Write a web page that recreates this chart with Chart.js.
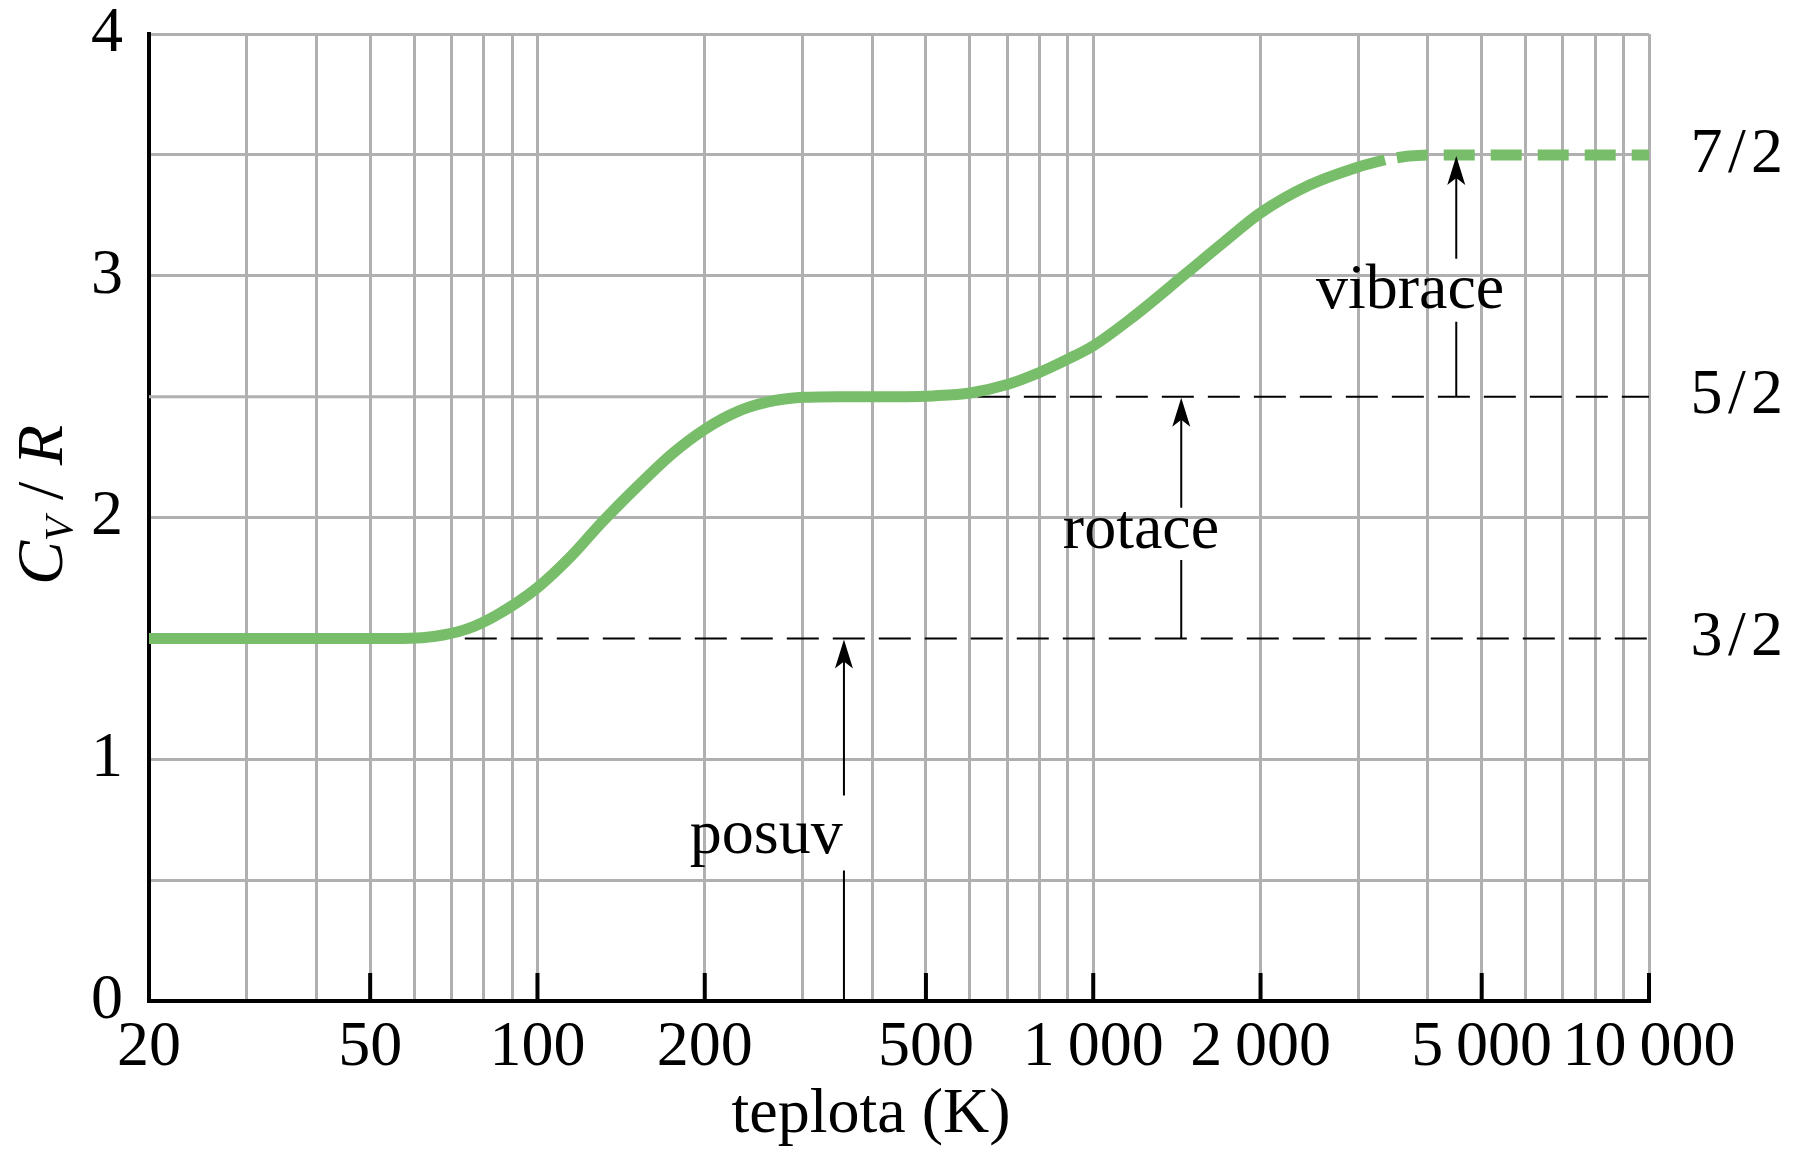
<!DOCTYPE html>
<html>
<head>
<meta charset="utf-8">
<title>Cv/R</title>
<script src="https://cdn.jsdelivr.net/npm/chart.js@4.4.1/dist/chart.umd.min.js"></script>
<style>
  html, body { margin: 0; padding: 0; background: #fff; }
  #wrap { width: 1798px; height: 1149px; }
</style>
</head>
<body>
<div id="wrap"><canvas id="cvChart" width="1798" height="1149"></canvas></div>
<script>
// temperature (K) and Cv/R
const tempSolid = [20, 30, 40, 50, 55, 62, 68, 75, 85, 100, 115, 130, 150, 175, 200, 230, 260, 300, 350, 400, 460, 515, 600, 700, 800, 900, 1000, 1180, 1470, 1700, 2000, 2450, 3000, 3350];
const cvSolid = [1.5, 1.5, 1.5, 1.5, 1.5, 1.503, 1.515, 1.54, 1.6, 1.71, 1.84, 1.975, 2.12, 2.265, 2.365, 2.44, 2.478, 2.497, 2.5, 2.5, 2.5, 2.503, 2.515, 2.55, 2.6, 2.655, 2.71, 2.83, 3.01, 3.13, 3.26, 3.375, 3.45, 3.48];
const tempDashed = [3350, 3700, 4200, 5000, 7000, 10000];
const cvDashed = [3.48, 3.495, 3.5, 3.5, 3.5, 3.5];

// black dashed reference levels
const transTemp = [74, 10000];
const transCv = [1.5, 1.5];
const rotTemp = [620, 10000];
const rotCv = [2.5, 2.5];
// the grey grid line at 2.5 only runs up to the dashed level
const gridPartTemp = [20, 620];
const gridPartCv = [2.5, 2.5];
const hiddenGridLevels = [1.5, 2.5];

// axis ticks
const gridTemps = [20, 30, 40, 50, 60, 70, 80, 90, 100, 200, 300, 400, 500, 600, 700, 800, 900, 1000, 2000, 3000, 4000, 5000, 6000, 7000, 8000, 9000, 10000];
const majorTemps = [50, 100, 200, 500, 1000, 2000, 5000, 10000];
const labelTemps = [20, 50, 100, 200, 500, 1000, 2000, 5000, 10000];
const tempLabels = ['20', '50', '100', '200', '500', '1\u2009000', '2\u2009000', '5\u2009000', '10\u2009000'];
const fracTicks = [1.5, 2.5, 3.5];
const fracLabels = ['3\u200a/\u200a2', '5\u200a/\u200a2', '7\u200a/\u200a2'];

// arrows: x position, from, to, gap for the text
const arrowTemps = [356, 1440, 4500];
const arrowFrom = [0, 1.5, 2.5];
const arrowTo = [1.5, 2.5, 3.5];
const arrowGapLow = [0.54, 1.824, 2.81];
const arrowGapHigh = [0.85, 2.04, 3.07];
const arrowText = ['posuv', 'rotace', 'vibrace'];
const textTemps = [258, 1219, 3716];
const textBase = [0.612, 1.874, 2.867];

const serif = "'Liberation Serif', 'DejaVu Serif', serif";
const green = '#78bd69';
const gridGray = '#b0b0b0';

const extras = {
  id: 'extras',
  afterDatasetsDraw(chart) {
    const { ctx, chartArea } = chart;
    const xs = chart.scales.x, ys = chart.scales.y;
    ctx.save();

    // inward ticks on the bottom axis
    ctx.strokeStyle = '#000';
    ctx.lineWidth = 4;
    majorTemps.forEach(t => {
      const px = xs.getPixelForValue(t);
      ctx.beginPath();
      ctx.moveTo(px, chartArea.bottom);
      ctx.lineTo(px, chartArea.bottom - 28);
      ctx.stroke();
    });

    // arrows with a gap for their labels
    ctx.lineWidth = 2;
    ctx.fillStyle = '#000';
    arrowTemps.forEach((t, i) => {
      const px = xs.getPixelForValue(t);
      const yFrom = ys.getPixelForValue(arrowFrom[i]);
      const yTo = ys.getPixelForValue(arrowTo[i]);
      const gLo = ys.getPixelForValue(arrowGapLow[i]);
      const gHi = ys.getPixelForValue(arrowGapHigh[i]);
      ctx.beginPath();
      ctx.moveTo(px, yFrom); ctx.lineTo(px, gLo);
      ctx.moveTo(px, gHi); ctx.lineTo(px, yTo + 20);
      ctx.stroke();
      ctx.beginPath();
      ctx.moveTo(px, yTo + 1);
      ctx.lineTo(px - 9, yTo + 30);
      ctx.lineTo(px, yTo + 23);
      ctx.lineTo(px + 9, yTo + 30);
      ctx.closePath();
      ctx.fill();
    });

    ctx.font = '64px ' + serif;
    ctx.textAlign = 'center';
    ctx.textBaseline = 'alphabetic';
    arrowText.forEach((s, i) => {
      ctx.fillText(s, xs.getPixelForValue(textTemps[i]), ys.getPixelForValue(textBase[i]));
    });

    // x title
    ctx.fillText('teplota (K)', 871, 1132);

    // y title  C_V / R, rotated
    ctx.translate(62, 505);
    ctx.rotate(-Math.PI / 2);
    ctx.textAlign = 'left';
    const bigI = 'italic 66px ' + serif;
    const smallI = 'italic 40px ' + serif;
    const parts = [
      { s: 'C', f: bigI, dy: 0 },
      { s: 'V', f: smallI, dy: 10 },
      { s: ' / ', f: '66px ' + serif, dy: 0 },
      { s: 'R', f: bigI, dy: 0 }
    ];
    let total = 0;
    parts.forEach(p => { ctx.font = p.f; p.w = ctx.measureText(p.s).width; total += p.w; });
    let cx = -total / 2;
    parts.forEach(p => {
      ctx.font = p.f;
      ctx.fillText(p.s, cx, p.dy);
      cx += p.w;
    });
    ctx.restore();
  }
};

const tickFont = { family: serif, size: 64, lineHeight: 1 };

new Chart(document.getElementById('cvChart'), {
  type: 'line',
  data: {
    datasets: [
      {
        data: tempSolid.map((t, i) => ({ x: t, y: cvSolid[i] })),
        borderColor: green,
        borderWidth: 11,
        pointRadius: 0,
        cubicInterpolationMode: 'monotone',
        order: 1
      },
      {
        data: tempDashed.map((t, i) => ({ x: t, y: cvDashed[i] })),
        borderColor: green,
        borderWidth: 11,
        borderDash: [31, 16],
        borderDashOffset: -12,
        pointRadius: 0,
        cubicInterpolationMode: 'monotone',
        order: 1
      },
      {
        data: transTemp.map((t, i) => ({ x: t, y: transCv[i] })),
        borderColor: '#000',
        borderWidth: 2,
        borderDash: [32, 14],
        pointRadius: 0,
        order: 2
      },
      {
        data: rotTemp.map((t, i) => ({ x: t, y: rotCv[i] })),
        borderColor: '#000',
        borderWidth: 2,
        borderDash: [32, 14],
        pointRadius: 0,
        order: 2
      },
      {
        data: gridPartTemp.map((t, i) => ({ x: t, y: gridPartCv[i] })),
        borderColor: gridGray,
        borderWidth: 3,
        pointRadius: 0,
        order: 3
      }
    ]
  },
  options: {
    responsive: false,
    animation: false,
    layout: { padding: { top: 34, left: 91, right: 15, bottom: 0 } },
    plugins: { legend: { display: false }, tooltip: { enabled: false } },
    scales: {
      x: {
        type: 'logarithmic',
        min: 20,
        max: 10000,
        afterBuildTicks: s => { s.ticks = gridTemps.map(v => ({ value: v })); },
        afterFit: s => { s.height = 148; },
        grid: { color: gridGray, lineWidth: 3, drawTicks: false, z: -1 },
        border: { color: '#000', width: 4 },
        ticks: {
          autoSkip: false,
          maxRotation: 0,
          padding: 15,
          color: '#000',
          font: tickFont,
          callback: v => {
            const k = labelTemps.indexOf(v);
            return k >= 0 ? tempLabels[k] : '';
          }
        }
      },
      y: {
        min: 0,
        max: 4,
        afterFit: s => { s.width = 58; },
        grid: {
          color: c => (c.tick && hiddenGridLevels.includes(c.tick.value)) ? 'rgba(0,0,0,0)' : gridGray,
          lineWidth: 3,
          drawTicks: false,
          z: -1
        },
        border: { color: '#000', width: 4 },
        ticks: {
          stepSize: 0.5,
          padding: 0,
          crossAlign: 'far',
          color: '#000',
          font: tickFont,
          callback: v => Number.isInteger(v) ? String(v) : ''
        }
      },
      y2: {
        position: 'right',
        min: 0,
        max: 4,
        afterBuildTicks: s => { s.ticks = fracTicks.map(v => ({ value: v })); },
        afterFit: s => { s.width = 134; },
        grid: { display: false, drawTicks: false },
        border: { display: false },
        ticks: {
          padding: 0,
          crossAlign: 'far',
          color: '#000',
          font: tickFont,
          callback: v => fracLabels[fracTicks.indexOf(v)]
        }
      }
    }
  },
  plugins: [extras]
});
</script>
</body>
</html>
